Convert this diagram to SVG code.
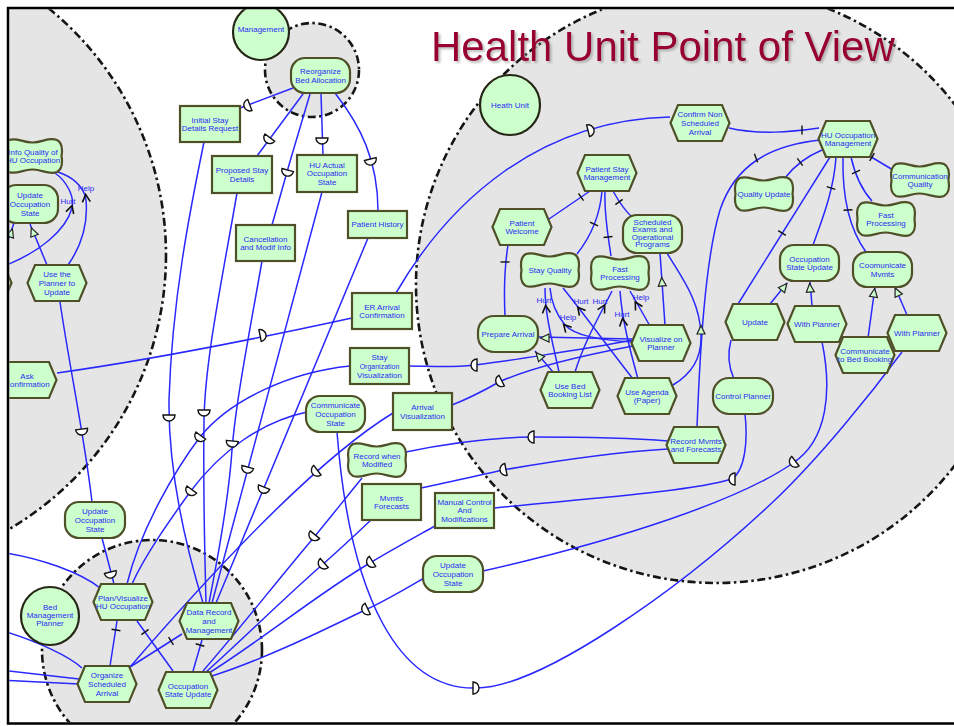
<svg xmlns="http://www.w3.org/2000/svg" xmlns:xlink="http://www.w3.org/1999/xlink" width="954" height="726" viewBox="0 0 954 726">
  <style>
    .bnd { fill:#e5e5e5; stroke:#151515; stroke-width:2.6; stroke-dasharray:8 3.5 2.5 3.5; }
    .nd { fill:#ccffcc; stroke:#4f4f28; stroke-width:2.2; }
    .act { fill:#ccffcc; stroke:#262616; stroke-width:2.2; }
    .t { font-family:"Liberation Sans", Arial, sans-serif; font-size:8px; fill:#2b2bf2; text-anchor:middle; }
    .lbl { font-family:"Liberation Sans", Arial, sans-serif; font-size:8px; fill:#2b2bf2; text-anchor:middle; }
    .lk path { fill:none; stroke:#2828ff; stroke-width:1.5; }
    .dep { fill:#ffffff; stroke:#111111; stroke-width:1.4; }
    .tick { fill:none; stroke:#111111; stroke-width:1.4; }
    .ca { fill:none; stroke:#111111; stroke-width:1.6; }
    .me { fill:#ccffcc; stroke:#222222; stroke-width:1.2; }
    .frame { stroke:#000000; stroke-width:2.5; fill:none; }
    .title { font-family:"Liberation Sans", Arial, sans-serif; font-size:42px; fill:#990033; }
  </style>
  <defs>
    <clipPath id="frame-clip"><rect x="9.3" y="9.3" width="944.7" height="712.9"/></clipPath>
    <filter id="soft-shadow" x="-5%" y="-20%" width="115%" height="150%">
      <feDropShadow dx="2" dy="2" stdDeviation="1" flood-color="#888888" flood-opacity="0.55"/>
    </filter>
    <!-- task -->
    <path id="hex" class="nd" d="M-29.5,0 L-22,-18 H22 L29.5,0 L22,18 H-22 Z"/>
    <!-- softgoal -->
    <path id="soft" class="nd" d="M-24,-16 C-16,-19 -10,-13 0,-13.5 C10,-14 16,-19 24,-16 C30,-13 29.5,-6 28.5,0 C29.5,6 30,13 24,16 C16,19 10,14 0,13.5 C-10,13 -16,19 -24,16 C-30,13 -29.5,6 -28.5,0 C-29.5,-6 -30,-13 -24,-16 Z"/>
    <!-- link decorations -->
    <path id="dm" class="dep" d="M-6,-3 H6 A6,6 0 0 1 -6,-3 Z"/>
    <path id="ca" class="ca" d="M-4,4 L0,-3.5 L4,4"/>
    <path id="me" class="me" d="M0,-4.5 L4,4 L-4,4 Z"/>
    <path id="tk" class="tick" d="M-4.5,0 H4.5"/>
  </defs>

  <rect width="954" height="726" fill="#ffffff"/>

  <g clip-path="url(#frame-clip)">
    <!-- actor boundaries -->
    <g id="actor-boundaries">
      <circle id="bnd-left" class="bnd" cx="-152" cy="255" r="318"/>
      <circle id="bnd-management" class="bnd" cx="312" cy="70" r="47"/>
      <ellipse id="bnd-health-unit" class="bnd" cx="716" cy="285" rx="300" ry="298"/>
      <circle id="bnd-bed-planner" class="bnd" cx="152" cy="650" r="110"/>
    </g>

    <!-- connectors -->
    <g id="connectors" class="lk">
      <!-- Reorganize Bed Allocation to its dependums -->
      <path d="M293,88 L240,108"/>
      <path d="M303,94 L257,156"/>
      <path d="M310,94 Q290,160 272,225"/>
      <path d="M321,94 L323,155"/>
      <path d="M335,93 C360,125 378,160 378,211"/>
      <!-- dependums to Data Record and Management -->
      <path d="M204,142 C190,210 172,300 169,400 C168,480 190,560 203,603"/>
      <path d="M237,193 C222,280 205,360 204,420 C203,500 205,560 206,603"/>
      <path d="M262,261 C250,330 236,400 232,450 C228,510 215,570 209,603"/>
      <path d="M322,192 L212,603"/>
      <path d="M368,238 L216,603"/>
      <!-- dependencies of the planner tasks -->
      <path d="M350,366 C290,372 230,400 200,437 C175,470 140,530 127,584"/>
      <path d="M307,412 C260,422 220,452 190,492 C170,520 145,555 132,584"/>
      <path d="M393,413 Q300,470 130,667"/>
      <path d="M362,478 C340,505 322,528 305,548 C270,590 232,638 203,671"/>
      <path d="M371,520 C352,538 338,551 322,565 C282,600 242,640 206,672"/>
      <path d="M435,526 C410,540 390,551 370,563 C320,592 262,640 209,673"/>
      <path d="M424,578 C400,592 385,601 365,610 C320,632 262,660 212,676"/>
      <path d="M337,432 C350,600 400,690 476,688 C540,688 680,590 775,500 C820,457 870,395 902,352"/>
      <path d="M822,342 C832,390 828,440 793,463 C740,500 620,540 483,571"/>
      <path d="M745,414 C748,442 745,470 732,479 C690,492 570,500 494,508"/>
      <path d="M668,441 C620,437 560,437 531,437 C480,438 440,445 406,452"/>
      <path d="M668,449 C620,452 560,460 503,470 C480,475 450,482 421,488"/>
      <path d="M633,340 C580,350 500,362 474,365 C450,368 430,366 409,366"/>
      <path d="M633,346 C580,356 530,368 499,382 C485,390 470,398 452,405"/>
      <path d="M396,293 C450,200 540,120 670,117"/>
      <path d="M57,373 C150,360 260,338 352,318"/>
      <path d="M60,302 C70,370 85,440 92,502"/>
      <path d="M102,538 L114,584"/>
      <path d="M0,552 C40,558 80,572 100,588"/>
      <path d="M0,630 C40,642 70,657 82,668"/>
      <path d="M0,670 L79,679"/>
      <path d="M0,680 L79,684"/>
      <!-- Bed Management Planner decompositions -->
      <path d="M117,621 L110,666"/>
      <path d="M137,621 L173,671"/>
      <path d="M182,634 L130,667"/>
      <path d="M202,640 L193,671"/>
      <!-- Health Unit decompositions -->
      <path d="M729,128 C760,135 790,132 819,128"/>
      <path d="M821,140 C770,145 735,165 720,210 C705,260 700,350 697,427"/>
      <path d="M822,150 C810,155 795,165 785,178"/>
      <path d="M830,157 L738,304"/>
      <path d="M836,157 C834,190 822,220 813,245"/>
      <path d="M843,157 C842,200 850,230 866,252"/>
      <path d="M851,157 C855,175 862,190 872,201"/>
      <path d="M868,155 L893,170"/>
      <path d="M590,191 L549,219"/>
      <path d="M602,191 C600,215 592,235 577,254"/>
      <path d="M605,191 C604,215 608,235 611,256"/>
      <path d="M613,191 C618,200 624,210 632,217"/>
      <path d="M508,245 C504,270 504,295 505,316"/>
      <!-- contributions -->
      <path d="M559,372 C552,340 545,315 545,288"/>
      <path d="M575,372 C585,340 600,315 612,291"/>
      <path d="M633,379 C610,350 585,315 563,288"/>
      <path d="M638,379 C630,350 622,320 620,291"/>
      <path d="M650,326 L630,291"/>
      <path d="M633,342 C600,340 575,336 565,325 C556,314 551,300 550,288"/>
      <!-- means-ends -->
      <path d="M632,339 L539,337"/>
      <path d="M553,372 L535,351"/>
      <path d="M665,325 L660,253"/>
      <path d="M673,385 C690,375 702,360 701,335 C700,300 680,275 667,253"/>
      <path d="M770,304 L787,283"/>
      <path d="M812,306 L810,281"/>
      <path d="M868,338 L875,287"/>
      <path d="M907,315 L895,287"/>
      <path d="M731,340 C727,355 729,368 734,379"/>
      <!-- left actor -->
      <path d="M47,265 L30,224"/>
      <path d="M4,252 L14,223"/>
      <path d="M68,265 C82,245 88,222 86,200 C84,185 70,176 58,172"/>
      <path d="M4,266 C40,252 66,230 72,208 C75,195 65,180 55,173"/>

      <g id="link-marks">
        <!-- dependency markers -->
        <use href="#dm" transform="translate(247,106) rotate(69)"/>
        <use href="#dm" transform="translate(268,140) rotate(37)"/>
        <use href="#dm" transform="translate(287,173) rotate(15)"/>
        <use href="#dm" transform="translate(322,141)"/>
        <use href="#dm" transform="translate(371,162) rotate(-14)"/>
        <use href="#dm" transform="translate(169,418)"/>
        <use href="#dm" transform="translate(204,413)"/>
        <use href="#dm" transform="translate(232,444) rotate(6)"/>
        <use href="#dm" transform="translate(247,470) rotate(15)"/>
        <use href="#dm" transform="translate(263,490) rotate(22)"/>
        <use href="#dm" transform="translate(199,438) rotate(36)"/>
        <use href="#dm" transform="translate(190,492) rotate(36)"/>
        <use href="#dm" transform="translate(315,472) rotate(53)"/>
        <use href="#dm" transform="translate(313,537) rotate(39)"/>
        <use href="#dm" transform="translate(322,565) rotate(48)"/>
        <use href="#dm" transform="translate(370,563) rotate(58)"/>
        <use href="#dm" transform="translate(365,610) rotate(64)"/>
        <use href="#dm" transform="translate(476,688) rotate(-90)"/>
        <use href="#dm" transform="translate(793,463) rotate(53)"/>
        <use href="#dm" transform="translate(732,479) rotate(90)"/>
        <use href="#dm" transform="translate(531,437) rotate(90)"/>
        <use href="#dm" transform="translate(503,470) rotate(79)"/>
        <use href="#dm" transform="translate(474,365) rotate(90)"/>
        <use href="#dm" transform="translate(499,382) rotate(63)"/>
        <use href="#dm" transform="translate(591,130) rotate(-104)"/>
        <use href="#dm" transform="translate(263,335) rotate(-101)"/>
        <use href="#dm" transform="translate(82,432) rotate(-8)"/>
        <use href="#dm" transform="translate(111,575) rotate(-14)"/>
        <!-- decomposition ticks -->
        <use href="#tk" transform="translate(802,130) rotate(90)"/>
        <use href="#tk" transform="translate(756,158) rotate(69)"/>
        <use href="#tk" transform="translate(800,162) rotate(53)"/>
        <use href="#tk" transform="translate(782,233) rotate(32)"/>
        <use href="#tk" transform="translate(831,188) rotate(17)"/>
        <use href="#tk" transform="translate(848,210) rotate(-3)"/>
        <use href="#tk" transform="translate(856,172) rotate(154)"/>
        <use href="#tk" transform="translate(872,157) rotate(121)"/>
        <use href="#tk" transform="translate(581,197) rotate(56)"/>
        <use href="#tk" transform="translate(594,224) rotate(24)"/>
        <use href="#tk" transform="translate(608,237) rotate(-6)"/>
        <use href="#tk" transform="translate(619,202) rotate(144)"/>
        <use href="#tk" transform="translate(505,262)"/>
        <use href="#tk" transform="translate(116,630) rotate(9)"/>
        <use href="#tk" transform="translate(145,632) rotate(144)"/>
        <use href="#tk" transform="translate(171,641) rotate(58)"/>
        <use href="#tk" transform="translate(200,645) rotate(16)"/>
        <!-- contribution arrowheads -->
        <use href="#ca" transform="translate(546,309) rotate(-6)"/>
        <use href="#ca" transform="translate(603,308) rotate(29)"/>
        <use href="#ca" transform="translate(580,310) rotate(-39)"/>
        <use href="#ca" transform="translate(623,322) rotate(-8)"/>
        <use href="#ca" transform="translate(637,305) rotate(-30)"/>
        <use href="#ca" transform="translate(566,327) rotate(-42)"/>
        <use href="#ca" transform="translate(86,198) rotate(-5)"/>
        <use href="#ca" transform="translate(71,209) rotate(17)"/>
        <!-- means-ends arrowheads -->
        <use href="#me" transform="translate(545,338) rotate(-90)"/>
        <use href="#me" transform="translate(539,356) rotate(-41)"/>
        <use href="#me" transform="translate(662,282) rotate(-4)"/>
        <use href="#me" transform="translate(701,330)"/>
        <use href="#me" transform="translate(784,287) rotate(39)"/>
        <use href="#me" transform="translate(810,288) rotate(-5)"/>
        <use href="#me" transform="translate(874,293) rotate(8)"/>
        <use href="#me" transform="translate(897,292) rotate(-25)"/>
        <use href="#me" transform="translate(33,232) rotate(-22)"/>
        <use href="#me" transform="translate(11,233) rotate(19)"/>
      </g>
      <g id="link-labels">
        <text class="lbl" x="544" y="303">Hurt</text>
        <text class="lbl" x="600" y="304">Hurt</text>
        <text class="lbl" x="581" y="304">Hurt</text>
        <text class="lbl" x="622" y="317">Hurt</text>
        <text class="lbl" x="641" y="300">Help</text>
        <text class="lbl" x="568" y="320">Help</text>
        <text class="lbl" x="86" y="191">Help</text>
        <text class="lbl" x="68" y="204">Hurt</text>
      </g>
    </g>

    <!-- actors -->
    <g id="actor-management">
      <circle class="act" cx="261" cy="32" r="28"/>
      <text class="t" x="261" y="32">Management</text>
    </g>
    <g id="actor-health-unit">
      <circle class="act" cx="510" cy="105" r="30"/>
      <text class="t" x="510" y="108">Heath Unit</text>
    </g>
    <g id="actor-bed-planner">
      <circle class="act" cx="50" cy="616" r="29"/>
      <text class="t" x="50" y="610">Bed</text>
      <text class="t" x="50" y="618">Management</text>
      <text class="t" x="50" y="626">Planner</text>
    </g>

    <!-- left actor elements -->
    <g id="sg-info-quality">
      <use href="#soft" x="33" y="156"/>
      <text class="t" x="33" y="154.6">Info Quality of</text>
      <text class="t" x="33" y="163.2">HU Occupation</text>
    </g>
    <g id="goal-update-occupation-left">
      <rect class="nd" x="2" y="185" width="56" height="38" rx="14"/>
      <text class="t" x="30" y="198.3">Update</text>
      <text class="t" x="30" y="206.9">Occupation</text>
      <text class="t" x="30" y="215.5">State</text>
    </g>
    <g id="task-use-planner">
      <use href="#hex" x="57" y="283"/>
      <text class="t" x="57" y="277.3">Use the</text>
      <text class="t" x="57" y="285.9">Planner to</text>
      <text class="t" x="57" y="294.5">Update</text>
    </g>
    <g id="task-left-edge">
      <use href="#hex" x="-18" y="283"/>
    </g>
    <g id="task-ask-confirmation">
      <use href="#hex" x="27" y="380"/>
      <text class="t" x="27" y="378.6">Ask</text>
      <text class="t" x="27" y="387.2">Confirmation</text>
    </g>

    <!-- management goal -->
    <g id="goal-reorganize">
      <rect class="nd" x="291" y="58" width="59" height="35" rx="14"/>
      <text class="t" x="320.5" y="74.1">Reorganize</text>
      <text class="t" x="320.5" y="82.7">Bed Allocation</text>
    </g>

    <!-- dependums -->
    <g id="res-initial-stay">
      <rect class="nd" x="180" y="106" width="60" height="36"/>
      <text class="t" x="210" y="122.6">Initial Stay</text>
      <text class="t" x="210" y="131.2">Details Request</text>
    </g>
    <g id="res-proposed-stay">
      <rect class="nd" x="212" y="156" width="60" height="37"/>
      <text class="t" x="242" y="173.1">Proposed Stay</text>
      <text class="t" x="242" y="181.7">Details</text>
    </g>
    <g id="res-hu-actual">
      <rect class="nd" x="297" y="155" width="60" height="37"/>
      <text class="t" x="327" y="167.8">HU Actual</text>
      <text class="t" x="327" y="176.4">Occupation</text>
      <text class="t" x="327" y="185">State</text>
    </g>
    <g id="res-patient-history">
      <rect class="nd" x="348" y="211" width="59" height="27"/>
      <text class="t" x="377.5" y="227.4">Patient History</text>
    </g>
    <g id="res-cancellation">
      <rect class="nd" x="236" y="225" width="59" height="36"/>
      <text class="t" x="265.5" y="241.6">Cancellation</text>
      <text class="t" x="265.5" y="250.2">and Modif Info</text>
    </g>
    <g id="res-er-arrival">
      <rect class="nd" x="352" y="293" width="60" height="36"/>
      <text class="t" x="382" y="309.6">ER Arrival</text>
      <text class="t" x="382" y="318.2">Confirmation</text>
    </g>
    <g id="res-stay-organization">
      <rect class="nd" x="350" y="348" width="59" height="36"/>
      <text class="t" x="379.5" y="360.3">Stay</text>
      <text class="t" x="379.5" y="368.9" style="font-size:7px">Organization</text>
      <text class="t" x="379.5" y="377.5">Visualization</text>
    </g>
    <g id="res-arrival-visualization">
      <rect class="nd" x="393" y="393" width="59" height="37"/>
      <text class="t" x="422.5" y="410.1">Arrival</text>
      <text class="t" x="422.5" y="418.7">Visualization</text>
    </g>
    <g id="goal-communicate-occupation">
      <rect class="nd" x="306" y="396" width="59" height="36" rx="14"/>
      <text class="t" x="335.5" y="408.3">Communicate</text>
      <text class="t" x="335.5" y="416.9">Occupation</text>
      <text class="t" x="335.5" y="425.5">State</text>
    </g>
    <g id="sg-record-modified">
      <use href="#soft" x="377" y="460"/>
      <text class="t" x="377" y="458.6">Record when</text>
      <text class="t" x="377" y="467.2">Modified</text>
    </g>
    <g id="res-mvmts-forecasts">
      <rect class="nd" x="362" y="484" width="59" height="36"/>
      <text class="t" x="391.5" y="500.6">Mvmts</text>
      <text class="t" x="391.5" y="509.2">Forecasts</text>
    </g>
    <g id="res-manual-control">
      <rect class="nd" x="435" y="493" width="59" height="35"/>
      <text class="t" x="464.5" y="504.8">Manual Control</text>
      <text class="t" x="464.5" y="513.4">And</text>
      <text class="t" x="464.5" y="522">Modifications</text>
    </g>
    <g id="goal-update-occupation-mid">
      <rect class="nd" x="423" y="556" width="60" height="36" rx="14"/>
      <text class="t" x="453" y="568.3">Update</text>
      <text class="t" x="453" y="576.9">Occupation</text>
      <text class="t" x="453" y="585.5">State</text>
    </g>
    <g id="goal-update-occupation-bl">
      <rect class="nd" x="65" y="502" width="60" height="36" rx="14"/>
      <text class="t" x="95" y="514.3">Update</text>
      <text class="t" x="95" y="522.9">Occupation</text>
      <text class="t" x="95" y="531.5">State</text>
    </g>

    <!-- Health Unit elements -->
    <g id="task-confirm-non-scheduled">
      <use href="#hex" x="700" y="123"/>
      <text class="t" x="700" y="117.3">Confirm Non</text>
      <text class="t" x="700" y="125.9">Scheduled</text>
      <text class="t" x="700" y="134.5">Arrival</text>
    </g>
    <g id="task-hu-occupation-management">
      <use href="#hex" x="848" y="139"/>
      <text class="t" x="848" y="137.6">HU Occupation</text>
      <text class="t" x="848" y="146.2">Management</text>
    </g>
    <g id="task-patient-stay">
      <use href="#hex" x="607" y="173"/>
      <text class="t" x="607" y="171.6">Patient Stay</text>
      <text class="t" x="607" y="180.2">Management</text>
    </g>
    <g id="task-patient-welcome">
      <use href="#hex" x="522" y="227"/>
      <text class="t" x="522" y="225.6">Patient</text>
      <text class="t" x="522" y="234.2">Welcome</text>
    </g>
    <g id="goal-scheduled-exams">
      <rect class="nd" x="623" y="215" width="59" height="38" rx="14"/>
      <text class="t" x="652.5" y="224.5">Scheduled</text>
      <text class="t" x="652.5" y="232">Exams and</text>
      <text class="t" x="652.5" y="239.5">Operational</text>
      <text class="t" x="652.5" y="247">Programs</text>
    </g>
    <g id="sg-stay-quality">
      <use href="#soft" x="550" y="270"/>
      <text class="t" x="550" y="272.9">Stay Quality</text>
    </g>
    <g id="sg-fast-processing-1">
      <use href="#soft" x="620" y="273"/>
      <text class="t" x="620" y="271.6">Fast</text>
      <text class="t" x="620" y="280.2">Processing</text>
    </g>
    <g id="goal-prepare-arrival">
      <rect class="nd" x="478" y="316" width="60" height="36" rx="16"/>
      <text class="t" x="508" y="336.9">Prepare Arrival</text>
    </g>
    <g id="task-visualize-planner">
      <use href="#hex" x="661" y="343"/>
      <text class="t" x="661" y="341.6">Visualize on</text>
      <text class="t" x="661" y="350.2">Planner</text>
    </g>
    <g id="task-use-bed-booking">
      <use href="#hex" x="570" y="390"/>
      <text class="t" x="570" y="388.6">Use Bed</text>
      <text class="t" x="570" y="397.2">Booking List</text>
    </g>
    <g id="task-use-agenda">
      <use href="#hex" x="647" y="396"/>
      <text class="t" x="647" y="394.6">Use Agenda</text>
      <text class="t" x="647" y="403.2">(Paper)</text>
    </g>
    <g id="task-record-mvmts">
      <use href="#hex" x="696" y="445"/>
      <text class="t" x="696" y="443.6">Record Mvmts</text>
      <text class="t" x="696" y="452.2">and Forecasts</text>
    </g>
    <g id="goal-control-planner">
      <rect class="nd" x="713" y="378" width="60" height="36" rx="16"/>
      <text class="t" x="743" y="398.9">Control Planner</text>
    </g>
    <g id="task-update">
      <use href="#hex" x="755" y="322"/>
      <text class="t" x="755" y="324.9">Update</text>
    </g>
    <g id="task-with-planner-1">
      <use href="#hex" x="817" y="324"/>
      <text class="t" x="817" y="326.9">With Planner</text>
    </g>
    <g id="task-communicate-bed-booking">
      <use href="#hex" x="865" y="355"/>
      <text class="t" x="865" y="353.6">Communicate</text>
      <text class="t" x="865" y="362.2">to Bed Booking</text>
    </g>
    <g id="task-with-planner-2">
      <use href="#hex" x="917" y="333"/>
      <text class="t" x="917" y="335.9">With Planner</text>
    </g>
    <g id="goal-occupation-state-update">
      <rect class="nd" x="780" y="245" width="59" height="36" rx="14"/>
      <text class="t" x="809.5" y="261.6">Occupation</text>
      <text class="t" x="809.5" y="270.2">State Update</text>
    </g>
    <g id="goal-coomunicate-mvmts">
      <rect class="nd" x="853" y="252" width="59" height="35" rx="14"/>
      <text class="t" x="882.5" y="268.1">Coomunicate</text>
      <text class="t" x="882.5" y="276.7">Mvmts</text>
    </g>
    <g id="sg-quality-update">
      <use href="#soft" x="764" y="194"/>
      <text class="t" x="764" y="196.9">Quality Update</text>
    </g>
    <g id="sg-fast-processing-2">
      <use href="#soft" x="886" y="219"/>
      <text class="t" x="886" y="217.6">Fast</text>
      <text class="t" x="886" y="226.2">Processing</text>
    </g>
    <g id="sg-communication-quality">
      <use href="#soft" x="920" y="180"/>
      <text class="t" x="920" y="178.6">Communication</text>
      <text class="t" x="920" y="187.2">Quality</text>
    </g>

    <!-- Bed Management Planner elements -->
    <g id="task-plan-visualize">
      <use href="#hex" x="123" y="602"/>
      <text class="t" x="123" y="600.6">Plan/Visualize</text>
      <text class="t" x="123" y="609.2">HU Occupation</text>
    </g>
    <g id="task-data-record">
      <use href="#hex" x="209" y="621"/>
      <text class="t" x="209" y="615.3">Data Record</text>
      <text class="t" x="209" y="623.9">and</text>
      <text class="t" x="209" y="632.5">Management</text>
    </g>
    <g id="task-organize-arrival">
      <use href="#hex" x="107" y="684"/>
      <text class="t" x="107" y="678.3">Organize</text>
      <text class="t" x="107" y="686.9">Scheduled</text>
      <text class="t" x="107" y="695.5">Arrival</text>
    </g>
    <g id="task-occupation-state-update">
      <use href="#hex" x="188" y="690"/>
      <text class="t" x="188" y="688.6">Occupation</text>
      <text class="t" x="188" y="697.2">State Update</text>
    </g>

    <text id="title" class="title" x="431" y="61" filter="url(#soft-shadow)">Health Unit Point of View</text>
  </g>

  <!-- frame -->
  <path class="frame" d="M954,8 H8 V723.5 H954"/>
</svg>
